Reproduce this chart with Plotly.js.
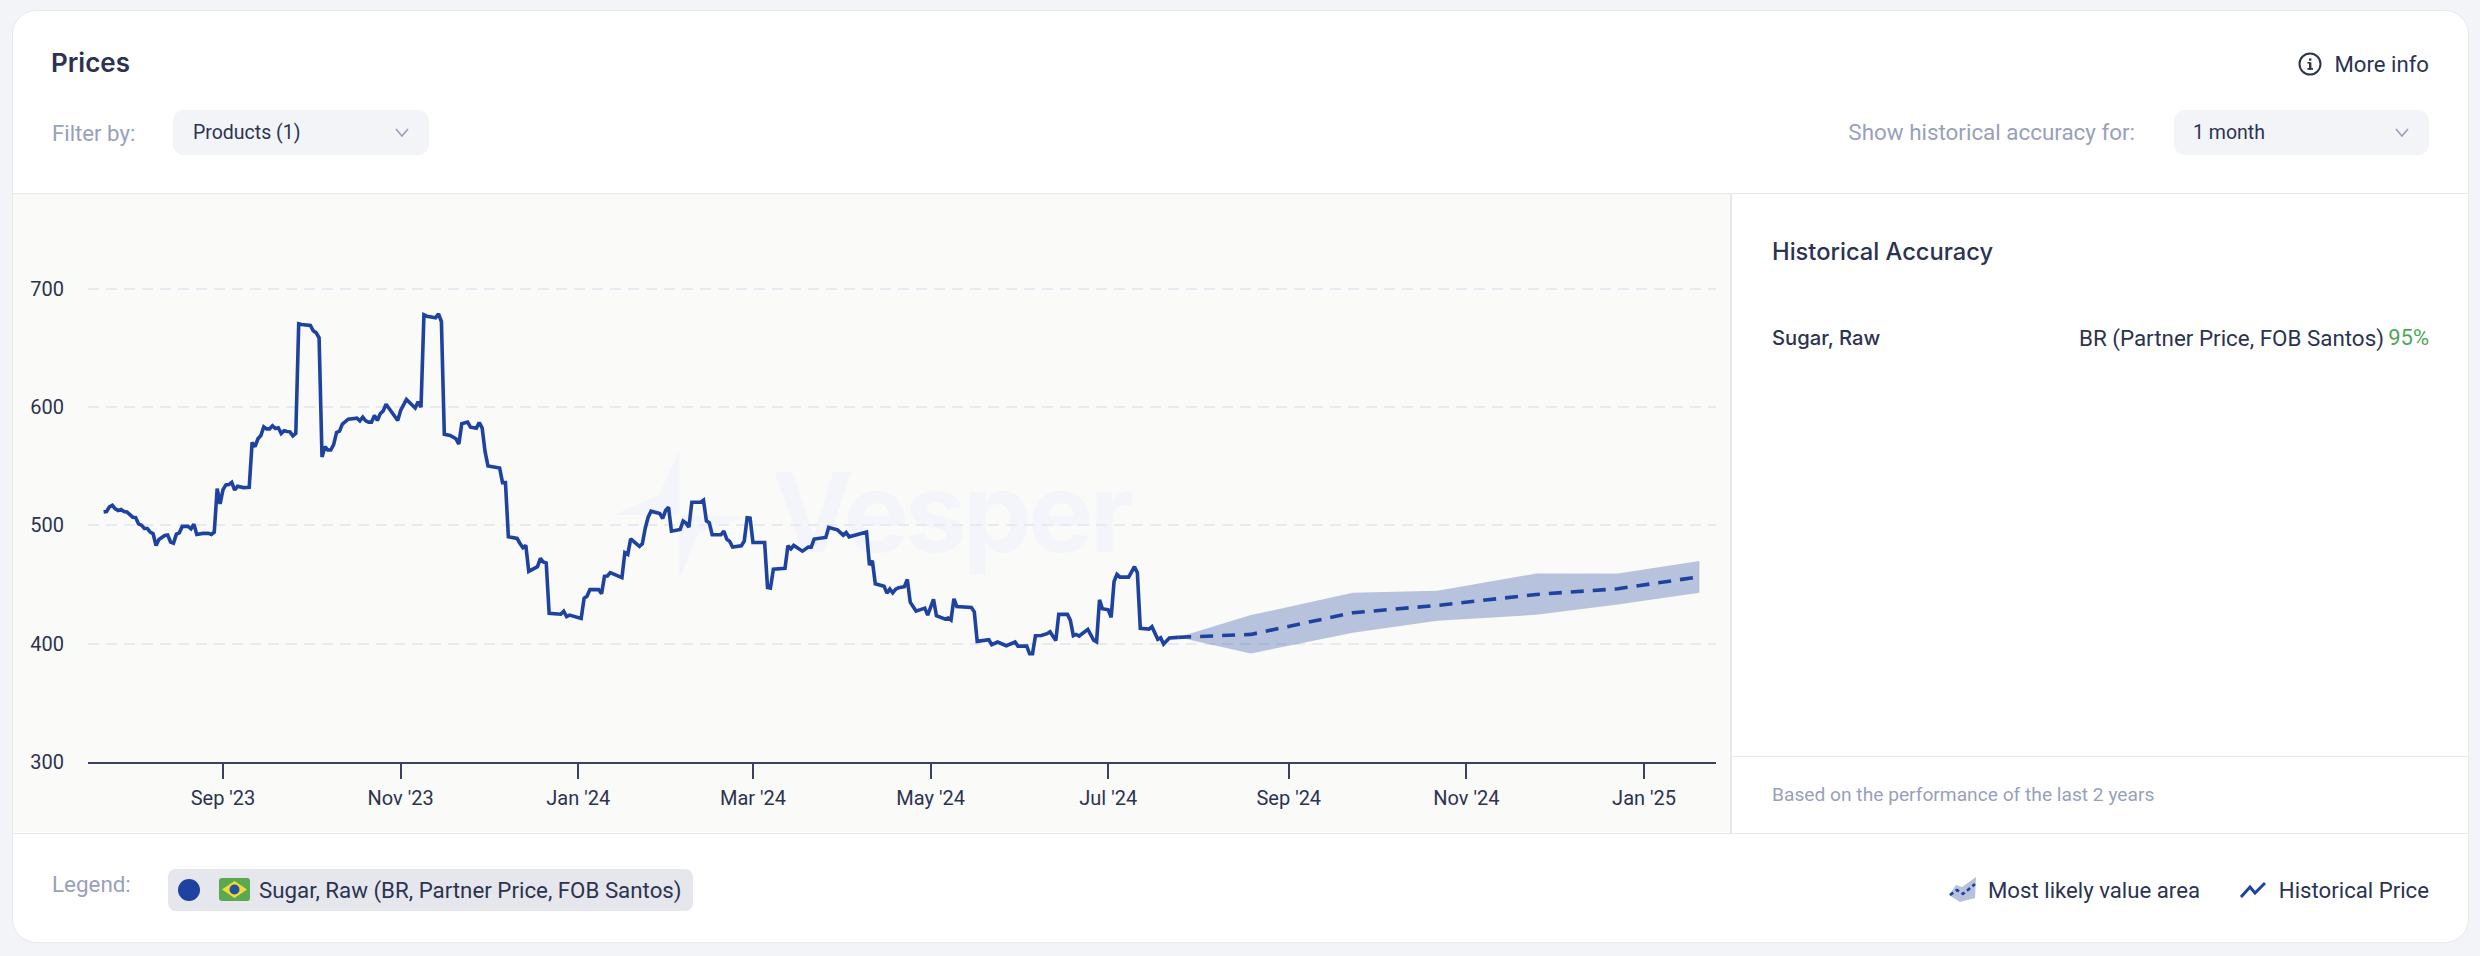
<!DOCTYPE html>
<html>
<head>
<meta charset="utf-8">
<script src="https://cdn.plot.ly/plotly-3.0.1.min.js"></script>
<style>
html,body{margin:0;padding:0;width:2480px;height:956px;overflow:hidden;background:#f3f4f8;font-family:Roboto,sans-serif;color:#2c3350}
.abs{position:absolute}
.t{position:absolute;white-space:nowrap;line-height:30px;height:30px}
#card{left:12px;top:10px;width:2455px;height:931px;background:#fff;border:1.5px solid #e6e8ee;border-radius:24px;box-sizing:content-box}
#panel{left:13px;top:193px;width:1717px;height:639px;background:#fafaf8}
.hl{position:absolute;height:1.5px;background:#e6e8ee}
.vl{position:absolute;width:1.5px;background:#e6e8ee}
.dd{position:absolute;background:#f3f4f8;border-radius:11px;top:110px;height:45px}
.muted{color:#98a1bb}
#chart{position:absolute;left:0;top:0;width:2480px;height:956px}
</style>
</head>
<body>
<div class="abs" id="card"></div>
<div class="abs" id="panel"></div>
<div class="hl" style="left:13px;top:192.5px;width:2455px"></div>
<div class="hl" style="left:13px;top:832.5px;width:2455px"></div>
<div class="vl" style="left:1730px;top:193px;height:640px"></div>
<div class="hl" style="left:1731px;top:755.5px;width:737px"></div>

<svg class="abs" style="left:0;top:0" width="2480" height="956">
  <polygon fill="#f3f5fa" points="679.4,450.7 658.9,495 613.4,515 679.4,515"/>
  <polygon fill="#f3f5fa" points="679.4,579.3 698.4,533.3 745.8,516.7 679.4,515"/>
</svg>
<div class="abs" style="left:772px;top:442px;font:700 110px/140px Inter,sans-serif;color:#f3f5fa;white-space:nowrap;letter-spacing:-4px">Vesper</div>

<div class="t" style="left:51px;top:48px;font:600 26px/30px Inter,sans-serif">Prices</div>
<div class="t muted" style="left:52px;top:118px;font-size:22.2px">Filter by:</div>
<div class="dd" style="left:173px;width:256px"></div>
<div class="t" style="left:193px;top:118px;font-size:19.5px">Products (1)</div>
<svg class="abs" style="left:394px;top:126px" width="16" height="14"><path d="M2 3 L8 10 L14 3" fill="none" stroke="#98a1bb" stroke-width="1.6"/></svg>

<svg class="abs" style="left:2297px;top:51px" width="26" height="26"><circle cx="13" cy="13" r="10.5" fill="none" stroke="#2c3350" stroke-width="2"/><rect x="12" y="11.5" width="2.4" height="7" fill="#2c3350"/><rect x="10.5" y="17" width="5.5" height="1.8" fill="#2c3350"/><rect x="10.5" y="11" width="3" height="1.6" fill="#2c3350"/><rect x="12" y="7.4" width="2.4" height="2.3" fill="#2c3350"/></svg>
<div class="t" style="right:51px;top:49px;font-size:22.2px">More info</div>
<div class="t muted" style="right:345px;top:117px;font-size:22.4px">Show historical accuracy for:</div>
<div class="dd" style="left:2174px;width:255px"></div>
<div class="t" style="left:2193px;top:118px;font-size:19.5px">1 month</div>
<svg class="abs" style="left:2394px;top:126px" width="16" height="14"><path d="M2 3 L8 10 L14 3" fill="none" stroke="#98a1bb" stroke-width="1.6"/></svg>

<div class="t" style="left:1772px;top:237px;font:500 23.7px/30px Inter,sans-serif">Historical Accuracy</div>
<div class="t" style="left:1772px;top:323px;font:500 20.2px/30px Inter,sans-serif">Sugar, Raw</div>
<div class="t" style="right:96px;top:323px;font-size:22.4px">BR (Partner Price, FOB Santos)</div>
<div class="t" style="right:51px;top:323px;font-size:22px;color:#4fa75a">95%</div>
<div class="t muted" style="left:1772px;top:780px;font-size:19.2px">Based on the performance of the last 2 years</div>

<div class="t muted" style="left:52px;top:869px;font-size:22.4px">Legend:</div>
<div class="abs" style="left:168px;top:869px;width:525px;height:42px;background:#e5e7ed;border-radius:8px"></div>
<div class="abs" style="left:178px;top:879px;width:22px;height:22px;border-radius:50%;background:#1e429f"></div>
<svg class="abs" style="left:219px;top:878px" width="31" height="24"><rect x="0" y="0" width="31" height="23" rx="3" fill="#5aa84f"/><polygon points="15.5,3 28,11.5 15.5,20 3,11.5" fill="#f5d93a"/><circle cx="15.5" cy="11.5" r="5" fill="#25509b"/></svg>
<div class="t" style="left:259px;top:875px;font-size:22.3px">Sugar, Raw (BR, Partner Price, FOB Santos)</div>

<svg class="abs" style="left:1948px;top:877px" width="30" height="26"><polygon points="1,18 8,8 14,10 28,0 27,21 12,25" fill="#b6c2dc"/><polyline points="2,18 9,13 15,17 27,7" fill="none" stroke="#1e429f" stroke-width="2.6" stroke-dasharray="4 3"/></svg>
<div class="t" style="left:1988px;top:875px;font-size:22.2px">Most likely value area</div>
<svg class="abs" style="left:2239px;top:880px" width="28" height="20"><polyline points="2,17 11,7 16,13 26,3" fill="none" stroke="#1e429f" stroke-width="3"/></svg>
<div class="t" style="right:51px;top:875px;font-size:22.2px">Historical Price</div>

<div id="chart"></div>
<script>
const historyDates = [
"2023-07-22","2023-07-23","2023-07-24","2023-07-25","2023-07-26","2023-07-27","2023-07-28","2023-07-29","2023-07-30","2023-07-31",
"2023-08-01","2023-08-02","2023-08-03","2023-08-04","2023-08-05","2023-08-06","2023-08-07","2023-08-08","2023-08-09","2023-08-10","2023-08-12","2023-08-13","2023-08-14","2023-08-15","2023-08-16","2023-08-17","2023-08-18","2023-08-20","2023-08-21","2023-08-22","2023-08-23","2023-08-25","2023-08-27","2023-08-28","2023-08-29","2023-08-30","2023-08-31",
"2023-09-01","2023-09-02","2023-09-03","2023-09-04","2023-09-05","2023-09-06","2023-09-08","2023-09-10","2023-09-11","2023-09-12","2023-09-13","2023-09-14","2023-09-15","2023-09-16","2023-09-17","2023-09-18","2023-09-19","2023-09-20","2023-09-21","2023-09-22","2023-09-23","2023-09-24","2023-09-25","2023-09-26","2023-09-27","2023-09-28",
"2023-10-01","2023-10-02","2023-10-03","2023-10-04","2023-10-05","2023-10-06","2023-10-07","2023-10-08","2023-10-09","2023-10-10","2023-10-11","2023-10-12","2023-10-14","2023-10-16","2023-10-17","2023-10-18","2023-10-19","2023-10-20","2023-10-21","2023-10-22","2023-10-23","2023-10-24","2023-10-25","2023-10-26","2023-10-27","2023-10-31",
"2023-11-01","2023-11-03","2023-11-06","2023-11-07","2023-11-08","2023-11-09","2023-11-10","2023-11-13","2023-11-14","2023-11-15","2023-11-16","2023-11-18","2023-11-20","2023-11-21","2023-11-22","2023-11-24","2023-11-25","2023-11-27","2023-11-28","2023-11-29","2023-11-30",
"2023-12-01","2023-12-05","2023-12-06","2023-12-07","2023-12-08","2023-12-11","2023-12-12","2023-12-13","2023-12-14","2023-12-15","2023-12-18","2023-12-19","2023-12-20","2023-12-21","2023-12-22","2023-12-26","2023-12-27","2023-12-28","2023-12-29",
"2024-01-02","2024-01-03","2024-01-04","2024-01-05","2024-01-08","2024-01-09","2024-01-10","2024-01-11","2024-01-12","2024-01-16","2024-01-17","2024-01-18","2024-01-19","2024-01-22","2024-01-23","2024-01-24","2024-01-25","2024-01-26","2024-01-29","2024-01-30","2024-01-31",
"2024-02-01","2024-02-02","2024-02-05","2024-02-06","2024-02-07","2024-02-08","2024-02-09","2024-02-12","2024-02-13","2024-02-14","2024-02-15","2024-02-16","2024-02-19","2024-02-20","2024-02-21","2024-02-22","2024-02-23","2024-02-26","2024-02-27","2024-02-28","2024-02-29",
"2024-03-01","2024-03-05","2024-03-06","2024-03-07","2024-03-08","2024-03-12","2024-03-13","2024-03-14","2024-03-15","2024-03-18","2024-03-20","2024-03-21","2024-03-22","2024-03-26","2024-03-27","2024-03-30",
"2024-04-01","2024-04-02","2024-04-03","2024-04-09","2024-04-10","2024-04-11","2024-04-12","2024-04-15","2024-04-16","2024-04-17","2024-04-18","2024-04-19","2024-04-20","2024-04-22","2024-04-23","2024-04-24","2024-04-26","2024-04-29","2024-04-30",
"2024-05-02","2024-05-03","2024-05-06","2024-05-07","2024-05-08","2024-05-09","2024-05-10","2024-05-15","2024-05-16","2024-05-17","2024-05-21","2024-05-22","2024-05-24","2024-05-27","2024-05-30","2024-05-31",
"2024-06-03","2024-06-04","2024-06-05","2024-06-06","2024-06-08","2024-06-10","2024-06-11","2024-06-13","2024-06-14","2024-06-17","2024-06-18","2024-06-19","2024-06-20","2024-06-21","2024-06-24","2024-06-26","2024-06-27","2024-06-28","2024-06-29",
"2024-07-01","2024-07-02","2024-07-03","2024-07-04","2024-07-05","2024-07-08","2024-07-10","2024-07-11","2024-07-12","2024-07-15","2024-07-16","2024-07-18","2024-07-19","2024-07-20","2024-07-22","2024-07-25"
];
const historyPrices = [
511.5,511.8,515.7,517.1,514,512.6,513.5,511.8,511.5,509,
507,506.7,501.4,500.3,497.5,497.5,494.4,493,483.1,488.2,491.6,492,486,485.1,492.7,493.8,499.2,499.2,497.2,501.1,492.4,493.3,493.3,492.4,494.4,531.2,518.3,
530.3,534.3,534.6,536.5,530,533.1,532,532.3,570.2,566.6,573.3,576.1,583.4,581.7,581.7,584.3,582,582.6,577.8,580.1,579.5,579.2,575.8,577.8,670.5,669.9,
669.1,664.6,662.9,658.7,557.9,566.6,563.8,563.8,568.3,578.7,579.8,585.7,589.9,590.2,590.7,588.5,591.6,588.5,587.4,587.4,593,588.8,594.4,596.9,602.5,588.8,
597.2,606.5,599.4,604.5,600,678.1,677,675.6,678.9,672.5,577.2,576.1,573.3,568.8,586,587.4,583.1,582.3,587.1,582.3,562.4,
550.3,548.6,536.2,536.2,490.4,489,484.8,481.2,483.1,461.2,465.2,472.2,469.1,468.3,425.8,425,427.5,423,424.2,
421.3,438.5,440.2,445.8,445.8,442.4,457,457.3,460.1,455.9,477,475.6,488.7,482.3,484.5,497.7,507,512.1,510.1,505.9,512.7,
515.5,495.2,496.6,503.7,502,498.6,519.7,519.7,521.4,503.9,502.3,492.1,492.1,495.2,488.5,486.5,481.7,482.8,486.8,506.5,506.2,
485.6,485.6,447.6,447,463.1,463.7,482.8,480.3,483.1,478.3,481.7,481.7,488.5,489.9,498.3,496.3,
491.8,494.1,490.4,494.4,466.5,470.1,450.7,448.7,442.8,446.2,443.1,446.2,447.3,448.2,454.4,435.2,427.6,430.1,424.2,
437.5,423.7,420.8,421.7,420,438,431.5,430.7,427,402,403.4,399.2,401.4,398.3,401.4,398,
398,391.5,391.5,406.8,407,408.5,410.1,402.8,424.8,424.8,419.7,406.8,407.9,406.5,412.1,403.1,401.7,437.2,429.6,
428.7,422.3,452.7,458.6,456.3,456.3,465.1,460,413,412.4,414.4,403.7,405,399.7,404.8,405.4
];
const forecastDates = ["2024-07-25","2024-08-19","2024-09-23","2024-10-22","2024-11-25","2024-12-23","2025-01-20"];
const forecastMid   = [405.4,407.9,426.2,432.4,441.7,446.5,456.6];
const forecastUpper = [405.4,424.2,443.1,444.8,459.4,459.4,469.9];
const forecastLower = [405.4,391.8,409.3,419.4,424.5,433.2,443.1];
const xTickDates  = ["2023-09-01","2023-11-01","2024-01-01","2024-03-01","2024-05-01","2024-07-01","2024-09-01","2024-11-01","2025-01-01"];
const xTickLabels = ["Sep '23","Nov '23","Jan '24","Mar '24","May '24","Jul '24","Sep '24","Nov '24","Jan '25"];
const yTicks = [300,400,500,600,700];

const ink = "#2c3350", navy = "#1e429f";
const traces = [
  {x:forecastDates,y:forecastLower,mode:"lines",line:{width:0,color:"rgba(0,0,0,0)"},showlegend:false,hoverinfo:"skip"},
  {x:forecastDates,y:forecastUpper,mode:"lines",fill:"tonexty",fillcolor:"rgba(30,66,159,0.3)",line:{width:0,color:"rgba(0,0,0,0)"},name:"Most likely value area",showlegend:false},
  {x:historyDates,y:historyPrices,mode:"lines",line:{color:navy,width:3.6},name:"Historical Price",showlegend:false},
  {x:forecastDates,y:forecastMid,mode:"lines",line:{color:navy,width:3.6,dash:"13px,9px"},name:"Forecast",showlegend:false}
];
const layout = {
  width:2480,height:956,
  paper_bgcolor:"rgba(0,0,0,0)",plot_bgcolor:"rgba(0,0,0,0)",
  margin:{l:88,r:764,t:217.5,b:194,pad:0},
  font:{family:"Roboto, sans-serif",size:20,color:ink},
  showlegend:false,
  xaxis:{type:"date",range:["2023-07-16 15:22","2025-01-25 17:00"],tickmode:"array",tickvals:xTickDates,ticktext:xTickLabels,
    ticks:"outside",ticklen:15,tickwidth:2,tickcolor:"#3a4260",showgrid:false,zeroline:false,showline:true,linecolor:"#3a4260",linewidth:2,
    tickfont:{family:"Roboto, sans-serif",size:20,color:ink},ticklabelstandoff:2},
  yaxis:{range:[300,760],tickmode:"array",tickvals:yTicks,ticks:"",showgrid:true,gridcolor:"#e8eaf2",gridwidth:2,griddash:"11px,7px",zeroline:false,showline:false,
    tickfont:{family:"Roboto, sans-serif",size:20,color:ink},ticklabelstandoff:23}
};
Plotly.newPlot("chart",traces,layout,{displayModeBar:false,staticPlot:true});
</script>
</body>
</html>
